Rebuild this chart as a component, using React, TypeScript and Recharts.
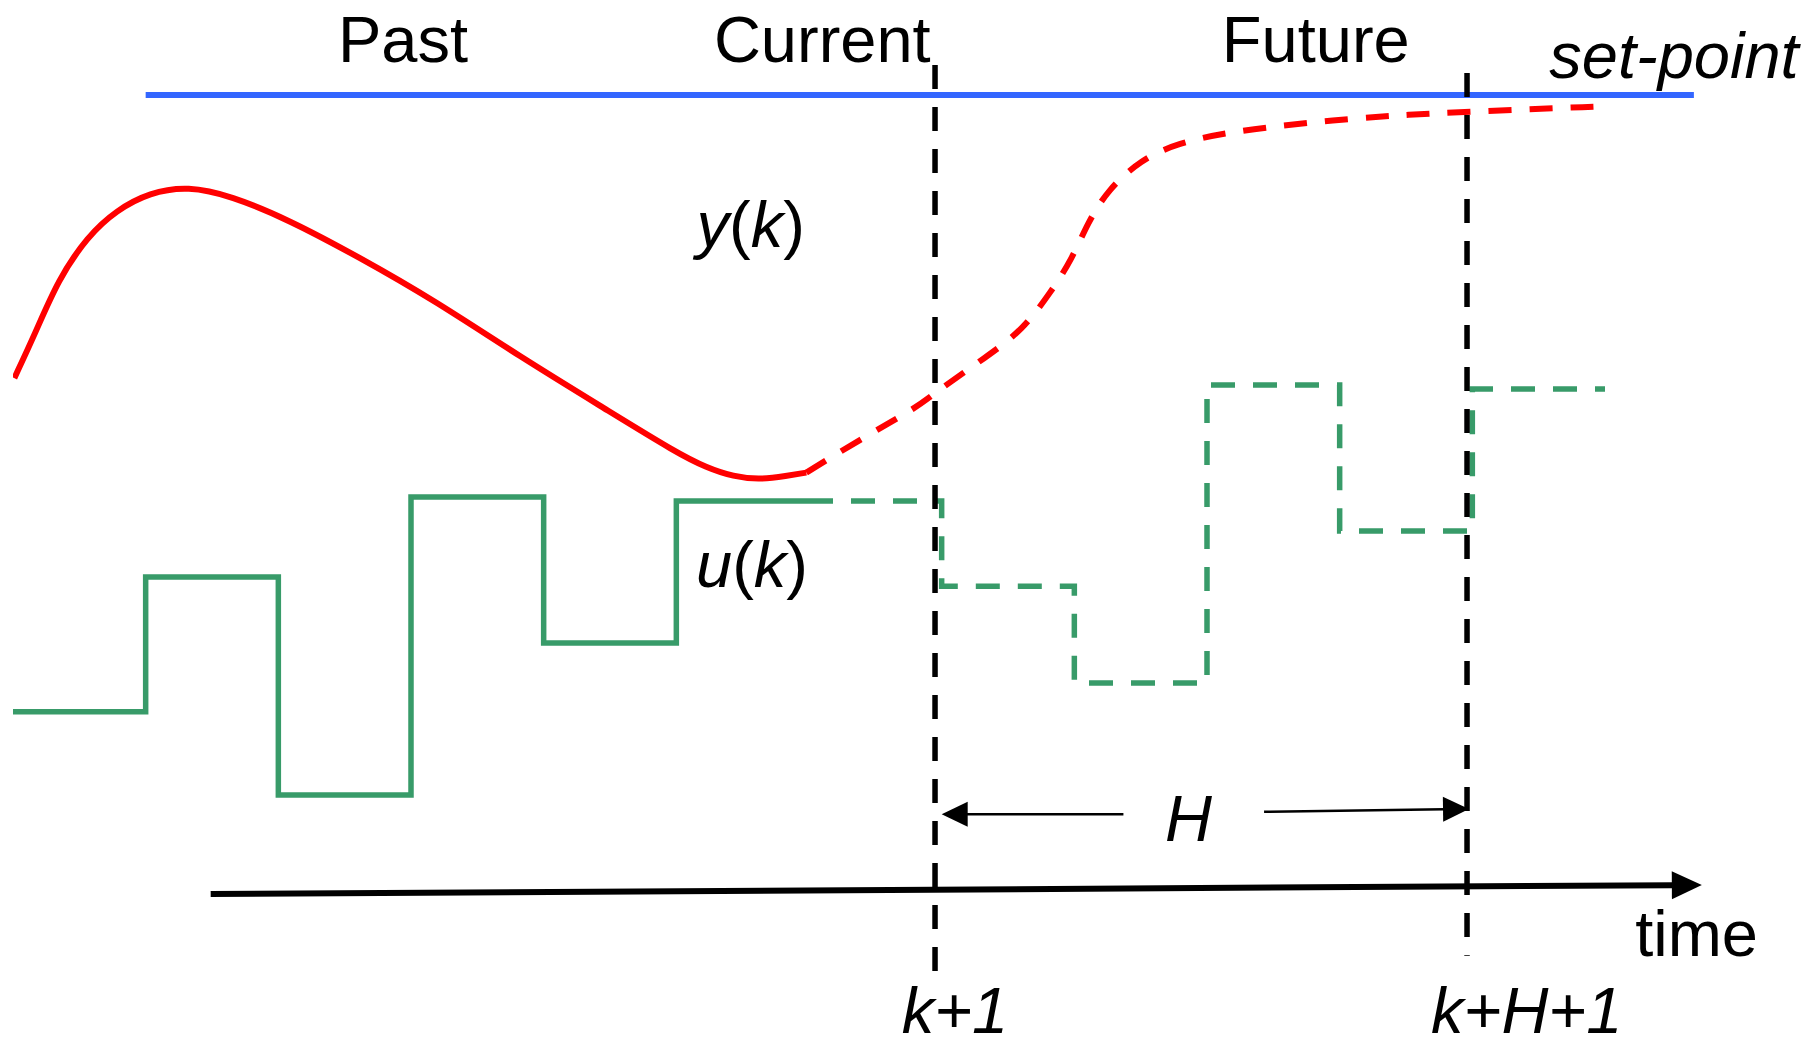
import React from 'react';
import { ComposedChart, Line, XAxis, YAxis, ReferenceLine, ReferenceDot } from 'recharts';

// time in sampling steps, level in arbitrary units (set-point = 100)
const stepTimes = [0, 1, 2, 3, 4, 5, 6, 7, 8, 9, 10, 11, 12];
const uPast = [22.9, 39.75, 12.5, 49.75, 31.5, 49.25, 49.25];
const uFuture = [49.25, 38.6, 26.5, 63.75, 45.5, 63.25, 63.25];

const yPastTimes = [0.01, 0.17, 0.34, 0.56, 0.78, 1.03, 1.32, 1.64, 2.08, 2.6, 3.17, 3.82, 4.48, 5.0, 5.23, 5.43, 5.63, 5.83, 5.98];
const yPast = [64.6, 70.3, 76.9, 82.3, 85.6, 87.8, 88.6, 87.4, 84.4, 79.8, 74.4, 67.3, 60.6, 55.3, 53.4, 52.3, 51.9, 52.4, 52.8];

const yPredTimes = [5.98, 6.38, 6.82, 6.95, 7.34, 7.61, 7.82, 7.98, 8.1, 8.25, 8.5, 8.78, 9.17, 9.78, 10.43, 10.97, 12.0];
const yPred = [52.8, 56.9, 61.0, 62.8, 67.3, 70.6, 75.3, 79.4, 84.0, 88.1, 91.9, 94.0, 95.4, 96.6, 97.5, 97.9, 98.6];

const setPoint = 100;
const setPointSpan = [1.0, 12.67];

const horizonStart = 6.95; // k+1
const horizonEnd = 10.96; // k+H+1

const FONT = 'Liberation Sans, Arial, sans-serif';
const RED = '#ff0000';
const GREEN = '#389b69';
const BLUE = '#3366ff';

type Part = [string, boolean];
const annotations: { parts: Part[]; t: number; v: number }[] = [
  { parts: [['Past', false]], t: 2.94, v: 104.1 },
  { parts: [['Current', false]], t: 6.1, v: 104.1 },
  { parts: [['Future', false]], t: 9.82, v: 104.1 },
  { parts: [['set-point', true]], t: 12.52, v: 102.1 },
  { parts: [['y', true], ['(', false], ['k', true], [')', false]], t: 5.56, v: 81 },
  { parts: [['u', true], ['(', false], ['k', true], [')', false]], t: 5.57, v: 38.5 },
  { parts: [['H', true]], t: 8.86, v: 6.75 },
  { parts: [['time', false]], t: 12.69, v: -7.6 },
  { parts: [['k+1', true]], t: 7.1, v: -17.2 },
  { parts: [['k+H+1', true]], t: 11.41, v: -17.2 },
];

const toRows = (ts: number[], vs: number[]) => vs.map((v, i) => ({ t: ts[i], v }));

const uPastData = toRows(stepTimes.slice(0, 7), uPast);
const uFutureData = toRows(stepTimes.slice(6), uFuture);
const yPastData = toRows(yPastTimes, yPast);
const yPredData = toRows(yPredTimes, yPred);
const setPointData = setPointSpan.map((t) => ({ t, v: setPoint }));

const arrowShape = (head: number, half: number, width: number) => (p: any) => {
  const { x1, y1, x2, y2 } = p;
  const a = Math.atan2(y2 - y1, x2 - x1);
  const c = Math.cos(a);
  const s = Math.sin(a);
  const bx = x2 - head * c;
  const by = y2 - head * s;
  const pts = `${x2},${y2} ${bx - s * half},${by + c * half} ${bx + s * half},${by - c * half}`;
  return (
    <g>
      <line x1={x1} y1={y1} x2={bx + c} y2={by + s} stroke="#000" strokeWidth={width} />
      <polygon points={pts} fill="#000" />
    </g>
  );
};

const textShape = (parts: Part[]) => (p: any) => (
  <text
    x={p.cx}
    y={p.cy}
    textAnchor="middle"
    fontFamily={FONT}
    fontSize={65}
    fill="#000"
  >
    {parts.map(([s, it], i) => (
      <tspan key={i} fontStyle={it ? 'italic' : 'normal'}>{s}</tspan>
    ))}
  </text>
);

export default function App() {
  return (
    <div style={{ position: 'absolute', left: 0, top: 0, background: '#fff' }}>
      <ComposedChart width={1812} height={1046} margin={{ top: 0, right: 8, bottom: 0, left: 13 }}>
        <XAxis type="number" dataKey="t" domain={[0, 13.5]} allowDataOverflow hide />
        <YAxis type="number" dataKey="v" domain={[-18.875, 111.875]} allowDataOverflow hide />

        <Line data={setPointData} dataKey="v" stroke={BLUE} strokeWidth={6} dot={false} activeDot={false} isAnimationActive={false} />

        <Line data={uPastData} dataKey="v" type="stepAfter" stroke={GREEN} strokeWidth={5.5} dot={false} activeDot={false} isAnimationActive={false} />
        <Line data={uFutureData} dataKey="v" type="stepAfter" stroke={GREEN} strokeWidth={5.5} strokeDasharray="24 18" dot={false} activeDot={false} isAnimationActive={false} />

        <Line data={yPastData} dataKey="v" type="basis" stroke={RED} strokeWidth={6} dot={false} activeDot={false} isAnimationActive={false} />
        <Line data={yPredData} dataKey="v" type="basis" stroke={RED} strokeWidth={6} strokeDasharray="23 18" dot={false} activeDot={false} isAnimationActive={false} />

        <ReferenceLine segment={[{ x: horizonStart, y: 103.75 }, { x: horizonStart, y: -9.5 }]} stroke="#000" strokeWidth={5.5} strokeDasharray="24 18" ifOverflow="visible" />
        <ReferenceLine segment={[{ x: horizonEnd, y: 102.75 }, { x: horizonEnd, y: -7.6 }]} stroke="#000" strokeWidth={5.5} strokeDasharray="24 18" ifOverflow="visible" />

        <ReferenceLine segment={[{ x: 1.49, y: 0.125 }, { x: 12.73, y: 1.25 }]} shape={arrowShape(30, 14, 6)} ifOverflow="visible" />
        <ReferenceLine segment={[{ x: 8.37, y: 10.1 }, { x: 7.0, y: 10.1 }]} shape={arrowShape(26, 12.5, 2.5)} ifOverflow="visible" />
        <ReferenceLine segment={[{ x: 9.43, y: 10.4 }, { x: 10.975, y: 10.75 }]} shape={arrowShape(26, 12.5, 2.5)} ifOverflow="visible" />

        {annotations.map((a, i) => (
          <ReferenceDot key={i} x={a.t} y={a.v} r={1} ifOverflow="visible" shape={textShape(a.parts)} />
        ))}
      </ComposedChart>
    </div>
  );
}
